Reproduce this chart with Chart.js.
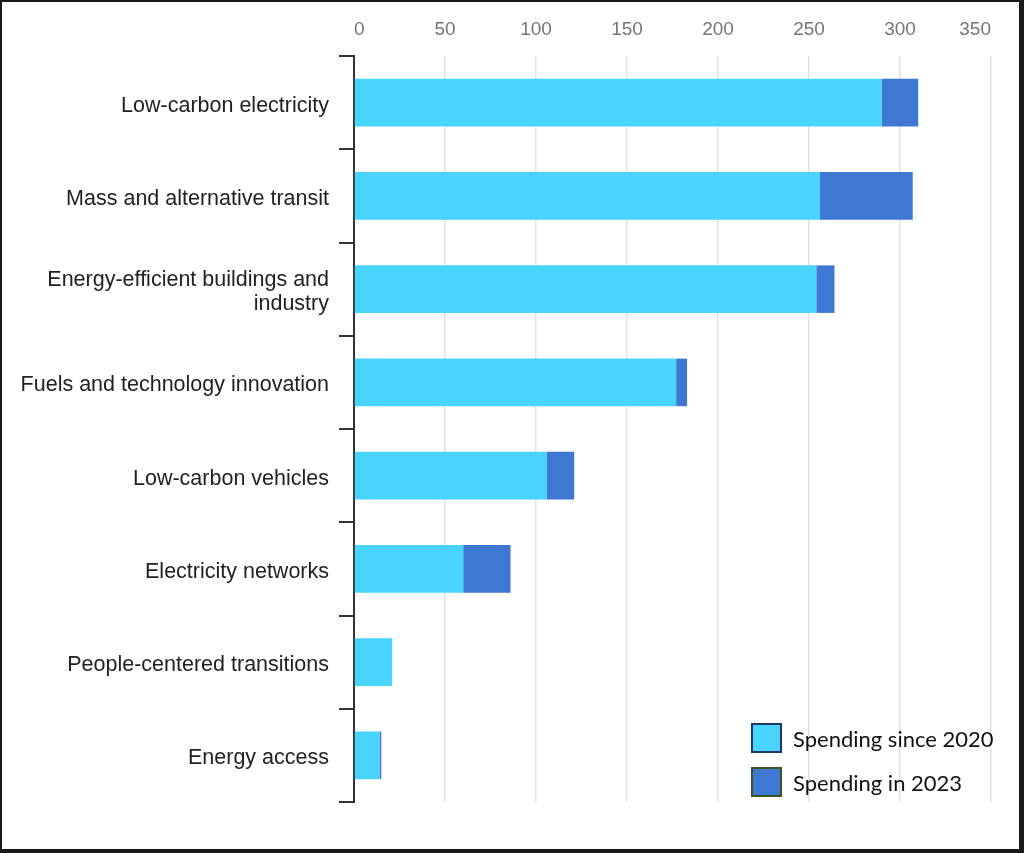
<!DOCTYPE html>
<html>
<head>
<meta charset="utf-8">
<script src="https://cdn.jsdelivr.net/npm/chart.js@4/dist/chart.umd.min.js"></script>
<style>
  html, body { margin: 0; padding: 0; background: #fff; }
  #wrap { position: relative; width: 1024px; height: 853px; overflow: hidden; }
  #frame {
    position: absolute; left: 0; top: 0; width: 1024px; height: 853px;
    box-sizing: border-box; border-style: solid; border-color: #1a1a1a;
    border-width: 2px 5px 4px 2px; pointer-events: none;
  }
  #legend { position: absolute; left: 751px; top: 723px; font-family: Lato, "Open Sans", sans-serif; font-size: 22px; color: #111; }
  #legend .item { display: flex; align-items: center; height: 30px; margin-bottom: 14px; }
  #legend .box { width: 27px; height: 26px; border: 2px solid; margin-right: 11px; }
</style>
</head>
<body>
<div id="wrap">
  <canvas id="myChart" width="1024" height="853"></canvas>
  <div id="legend"></div>
  <div id="frame"></div>
</div>
<script>
// categories, top to bottom
var categories = [
    'Low-carbon electricity',
    'Mass and alternative transit',
    ['Energy-efficient buildings and', 'industry'],
    'Fuels and technology innovation',
    'Low-carbon vehicles',
    'Electricity networks',
    'People-centered transitions',
    'Energy access'
];
var since2020 = [290, 256, 254, 177, 106, 60, 21, 14];
var in2023 = [20, 51, 10, 6, 15, 26, 0, 1];
var seriesNames = ['Spending since 2020', 'Spending in 2023'];
var xTicks = [0, 50, 100, 150, 200, 250, 300, 350];

var lightBlue = '#48D4FE';
var darkBlue = '#3E78D2';

var ctx = document.getElementById('myChart').getContext('2d');
var myChart = new Chart(ctx, {
    type: 'bar',
    data: {
        labels: categories,
        datasets: [
            { label: seriesNames[0], data: since2020, backgroundColor: lightBlue, legendBorder: '#1F3864' },
            { label: seriesNames[1], data: in2023, backgroundColor: darkBlue, legendBorder: '#375623' }
        ]
    },
    options: {
        indexAxis: 'y',
        responsive: false,
        animation: false,
        devicePixelRatio: 1,
        barPercentage: 0.51,
        categoryPercentage: 1,
        layout: { padding: { top: 0, right: 33, bottom: 51, left: 0 } },
        plugins: {
            legend: { display: false },
            tooltip: { enabled: false }
        },
        scales: {
            x: {
                position: 'top',
                stacked: true,
                min: xTicks[0],
                max: xTicks[xTicks.length - 1],
                afterBuildTicks: function(axis) {
                    axis.ticks = xTicks.map(function(v) { return { value: v }; });
                },
                afterFit: function(axis) { axis.height = 56; },
                border: { display: false },
                grid: { color: '#e2e2e2', lineWidth: 1.5, drawTicks: false },
                ticks: {
                    align: 'inner',
                    padding: 15,
                    color: '#757575',
                    font: { family: '"Liberation Sans", Arial, sans-serif', size: 19 }
                }
            },
            y: {
                stacked: true,
                afterFit: function(axis) { axis.width = 354; },
                border: { display: true, color: '#333', width: 2 },
                grid: {
                    offset: true,
                    drawOnChartArea: false,
                    drawTicks: true,
                    tickLength: 15,
                    color: '#333',
                    lineWidth: 2
                },
                ticks: {
                    padding: 10,
                    labelOffset: 3,
                    color: '#222',
                    font: { family: '"Liberation Sans", Arial, sans-serif', size: 21.5, lineHeight: 1.15 }
                }
            }
        }
    }
});

// legend drawn as html over the plot
var legendBox = document.getElementById('legend');
myChart.data.datasets.forEach(function(ds) {
    var item = document.createElement('div');
    item.className = 'item';
    var box = document.createElement('span');
    box.className = 'box';
    box.style.background = ds.backgroundColor;
    box.style.borderColor = ds.legendBorder;
    var txt = document.createElement('span');
    txt.textContent = ds.label;
    item.appendChild(box);
    item.appendChild(txt);
    legendBox.appendChild(item);
});
</script>
</body>
</html>
